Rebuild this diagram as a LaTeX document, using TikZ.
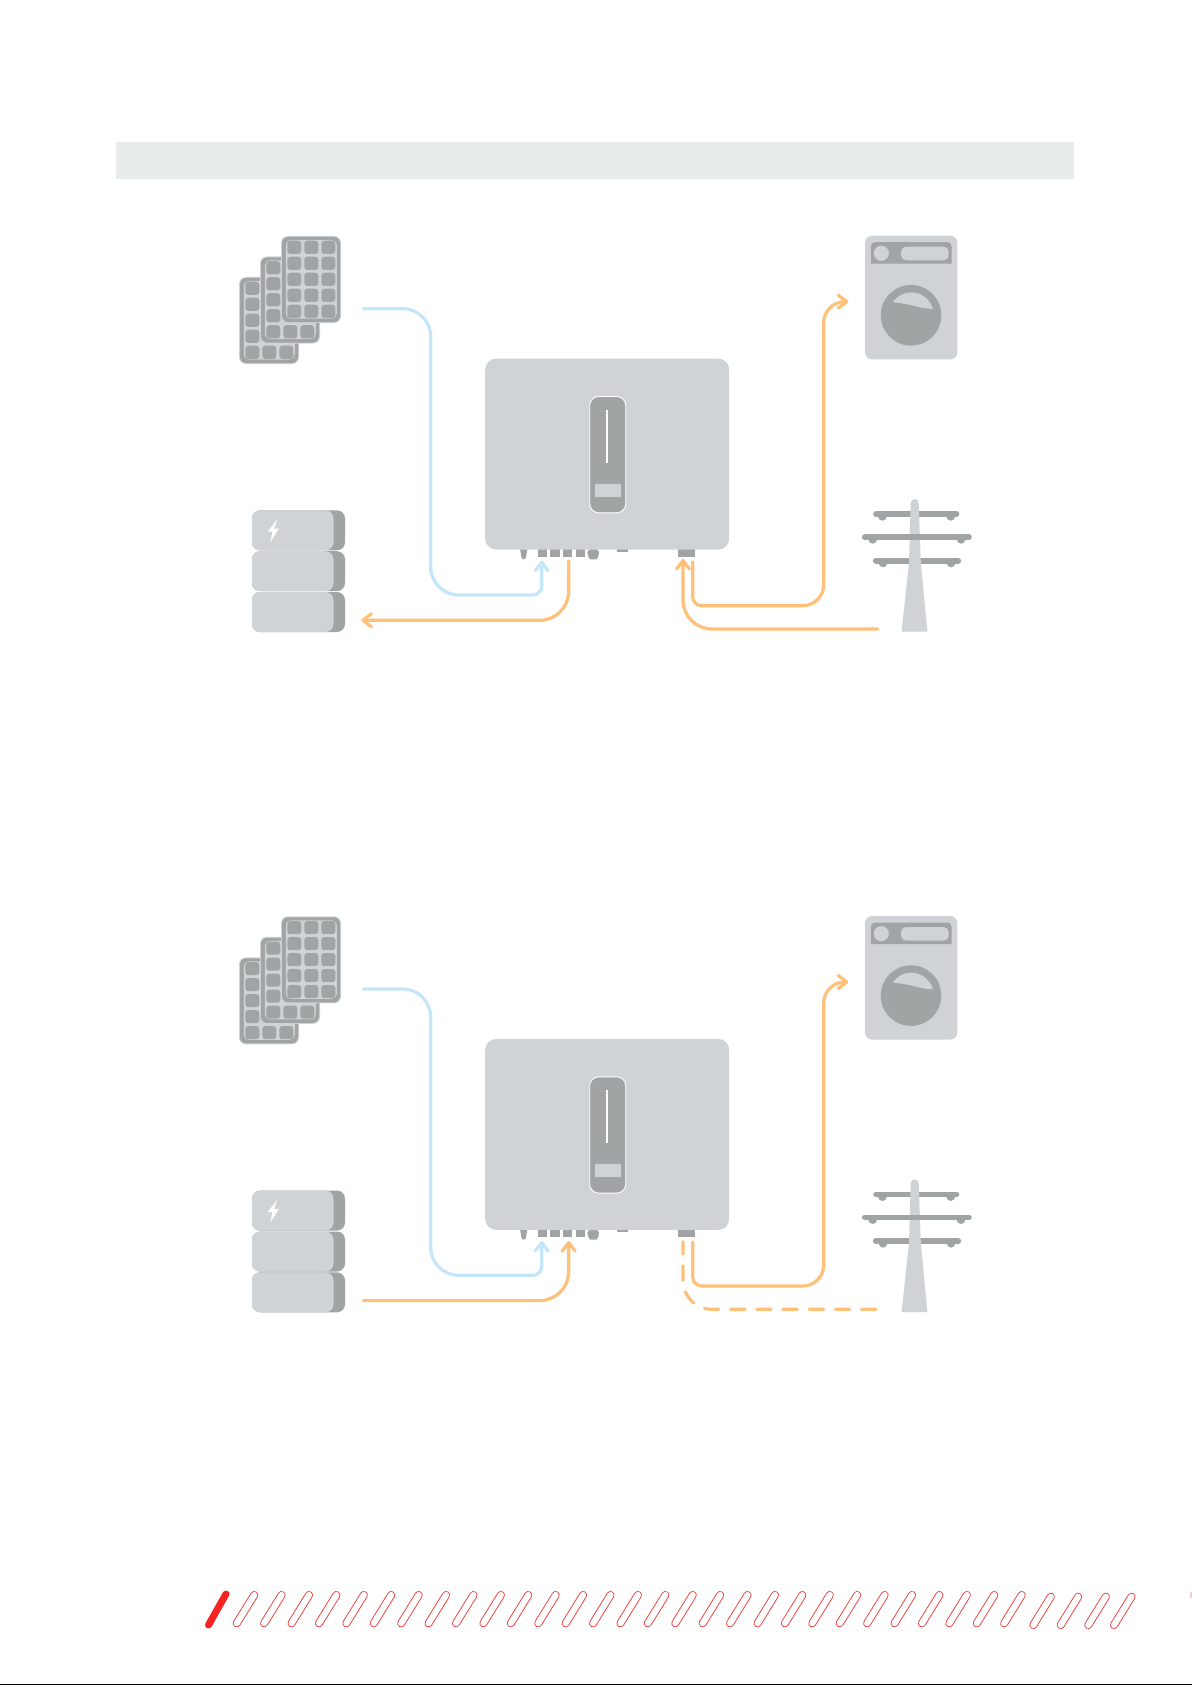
\documentclass[tikz,border=0pt]{standalone}
\usetikzlibrary{arrows.meta}
\definecolor{bodygrey}{HTML}{D0D3D6}
\definecolor{darkgrey}{HTML}{A1A4A4}
\definecolor{barcol}{HTML}{E8EBEB}
\definecolor{bluewire}{HTML}{C4E6FA}
\definecolor{orangewire}{HTML}{FFC078}
\definecolor{stripered}{HTML}{F03A3A}
\tikzset{
  wire/.style={line width=3.2pt,line cap=round},
  bluew/.style={wire,draw=bluewire},
  orangew/.style={wire,draw=orangewire},
  chev/.style={-{Straight Barb[length=8.5pt,width=13pt,line width=3.2pt,round]}},
  dashw/.style={orangew,line cap=round,dash pattern=on 14.5pt off 11.7pt},
  light/.style={fill=bodygrey,draw=none},
  dark/.style={fill=darkgrey,draw=none},
  pillout/.style={line cap=round,line width=8pt,draw=stripered},
  pillin/.style={line cap=round,line width=6.2pt,draw=white},
}
% one solar panel; #1 = shift
\newcommand{\pvpanel}[1]{%
 \begin{scope}[shift={(#1)}]
  \fill[bodygrey,rounded corners=7pt] (281,236) rectangle (341,323);
  \fill[darkgrey,rounded corners=6pt] (282,237) rectangle (340,322);
  \fill[bodygrey,rounded corners=5pt] (285.8,240) rectangle (336.8,318.5);
  \foreach \c in {0,1,2}{\foreach \r in {0,1,2,3,4}{
    \fill[darkgrey,rounded corners=3pt] (287.3+17*\c,240.7+16*\r) rectangle ++(14,13.2);
  }}
 \end{scope}}
\newcommand{\battblock}[1]{%
  \fill[darkgrey,rounded corners=8pt] (252,#1) rectangle (345,#1+40);
  \fill[bodygrey,rounded corners=8pt] (252,#1) rectangle (333.5,#1+40);}
\newcommand{\commonart}{%
  % panels
  \pvpanel{-42,41}\pvpanel{-21,20.5}\pvpanel{0,0}
  % batteries
  \battblock{510.3}\battblock{551.2}\battblock{592}
  \fill[white] (277.3,519.3) -- (267.7,531.7) -- (272.3,531.7) -- (270.7,541.7) -- (279,528.5) -- (274,528.5) -- cycle;
  % inverter ports
  \fill[darkgrey] (520,549) -- (527.4,549) -- (525.8,558) -- (523.7,559.5) -- (521.6,558) -- cycle;
  \fill[darkgrey] (538,549) rectangle (546.7,556.8);
  \fill[darkgrey] (550,549) rectangle (560,556.8);
  \fill[darkgrey] (563,549) rectangle (572,556.8);
  \fill[darkgrey] (576,549) rectangle (585,556.8);
  \fill[darkgrey] (590,549) -- (596.6,549) -- (599,552) -- (598.3,556.5) -- (596.6,559.3) -- (590,559.3) -- (588.3,556.5) -- (587.3,552) -- cycle;
  \fill[darkgrey] (617,549) rectangle (628.3,552);
  \fill[darkgrey] (678,549) rectangle (695,557);
  % inverter body
  \node[fill=bodygrey,rounded corners=11pt,inner sep=0pt,minimum width=244pt,minimum height=191pt,anchor=north west] (inv) at (485,358.4) {};
  \draw[white,fill=darkgrey,line width=0.9pt,rounded corners=9pt] (589.7,396.5) rectangle (625.7,512.8);
  \draw[white,line width=1.8pt] (606.7,410) -- (606.7,462.7);
  \fill[bodygrey] (594.7,484) rectangle (620.7,496.7);
  % washer
  \fill[bodygrey,rounded corners=7pt] (865,235.7) rectangle (957.3,359.3);
  \fill[darkgrey] (871,263.7) -- (871,246.2) arc[start angle=180,end angle=90,radius=4pt]
     -- (947.5,242.2) arc[start angle=90,end angle=0,radius=4pt] -- (951.5,263.7) -- cycle;
  \fill[bodygrey] (881.3,253.3) circle[radius=7.6pt];
  \fill[bodygrey,rounded corners=5pt] (901,246.7) rectangle (948.7,260.3);
  \fill[darkgrey] (911,315.3) circle[radius=30.3pt];
  \fill[bodygrey] (892.7,302) .. controls (898,295.5) and (904,292.3) .. (911,292.3)
     .. controls (921,292.3) and (930,299) .. (933,309)
     .. controls (922,308.5) and (915,306) .. (908,304.5) .. controls (903,303.5) and (898,303) .. (892.7,302) -- cycle;
  % tower arms behind pole
  \draw[darkgrey,line width=5.6pt,line cap=round] (876,514) -- (956.5,514);
  \fill[darkgrey] (878.1,516.4) arc[start angle=180,end angle=360,radius=4.3pt];
  \fill[darkgrey] (946.4,516.4) arc[start angle=180,end angle=360,radius=4.3pt];
  \draw[darkgrey,line width=5.6pt,line cap=round] (875.7,560.7) -- (958.3,560.7);
  \fill[darkgrey] (878.7,563) arc[start angle=180,end angle=360,radius=4.3pt];
  \fill[darkgrey] (946.7,563) arc[start angle=180,end angle=360,radius=4.3pt];
  % pole
  \fill[bodygrey] (910.7,503) arc[start angle=180,end angle=0,radius=4pt] -- (920.8,562) -- (927.4,631.7) -- (901.6,631.7) -- (909,562) -- cycle;
  % middle arm in front
  \draw[darkgrey,line width=5.6pt,line cap=round] (864.7,537) -- (969,537);
  \fill[darkgrey] (868.4,539.4) arc[start angle=180,end angle=360,radius=4.3pt];
  \fill[darkgrey] (956.7,539.4) arc[start angle=180,end angle=360,radius=4.3pt];
}
\begin{document}
\begin{tikzpicture}[x=1pt,y=-1pt]
\useasboundingbox (0,0) rectangle (1192,1685);
\fill[white] (0,0) rectangle (1192,1685);
\fill[barcol] (116,141.7) rectangle (1073.8,179.3);

% ---------- upper diagram
\begin{scope}
  \commonart
  \coordinate (pvA) at (363.5,308.7);
  \coordinate (pvAdown) at (430.7,450);
  \coordinate (pvAbottom) at (500,595);
  \coordinate (portA) at (541.7,560.7);
  \coordinate (battPortA) at (568.7,561);
  \coordinate (battA) at (361.3,620.3);
  \coordinate (acOutA) at (692.7,561.7);
  \coordinate (acOutAbottom) at (760,605.7);
  \coordinate (acOutAside) at (823.7,450);
  \coordinate (washerA) at (848.3,301.7);
  \coordinate (towerA) at (877.7,629);
  \coordinate (acInA) at (683,559);
  \draw[bluew,chev,rounded corners=28pt] (pvA) -| (pvAdown) |- (pvAbottom) [rounded corners=9pt] -| (portA);
  \draw[orangew,chev,rounded corners=29pt] (battPortA) |- (battA);
  \draw[orangew,chev,rounded corners=9pt] (acOutA) |- (acOutAbottom) [rounded corners=21pt] -| (acOutAside) |- (washerA);
  \draw[orangew,chev,rounded corners=29pt] (towerA) -| (acInA);
\end{scope}

% ---------- lower diagram
\begin{scope}[shift={(0,680.3)}]
  \commonart
  \coordinate (pvB) at (363.5,308.7);
  \coordinate (pvBdown) at (430.7,450);
  \coordinate (pvBbottom) at (500,595);
  \coordinate (portB) at (541.7,560.7);
  \coordinate (battB) at (363.5,620.3);
  \coordinate (battPortB) at (568.7,560.7);
  \coordinate (acOutB) at (692.7,561.7);
  \coordinate (acOutBbottom) at (760,605.7);
  \coordinate (acOutBside) at (823.7,450);
  \coordinate (washerB) at (848.3,301.7);
  \coordinate (towerB) at (876,629);
  \coordinate (acInB) at (682.9,561.4);
  \draw[bluew,chev,rounded corners=28pt] (pvB) -| (pvBdown) |- (pvBbottom) [rounded corners=9pt] -| (portB);
  \draw[orangew,chev,rounded corners=29pt] (battB) -| (battPortB);
  \draw[orangew,chev,rounded corners=9pt] (acOutB) |- (acOutBbottom) [rounded corners=21pt] -| (acOutBside) |- (washerB);
  \draw[dashw,rounded corners=29pt] (towerB) -| (acInB);
\end{scope}

% ---------- stripes
\draw[stripered!60!red,line width=7pt,line cap=round] (208.5,1625) -- (226,1594);
\foreach \i in {0,...,28}{
  \pgfmathsetmacro{\px}{236.7+27.41*\i}
  \draw[pillout] (\px,1623.3) -- (\px+17.5,1595);
  \draw[pillin] (\px,1623.3) -- (\px+17.5,1595);
}
\foreach \px in {1033.3,1060.7,1088.3,1114}{
  \draw[pillout] (\px,1625) -- (\px+17.5,1596.7);
  \draw[pillin] (\px,1625) -- (\px+17.5,1596.7);
}
\fill[red!22] (1190,1592) rectangle (1192,1598);
\fill[black] (0,1684) rectangle (1192,1685);
\end{tikzpicture}
\end{document}
